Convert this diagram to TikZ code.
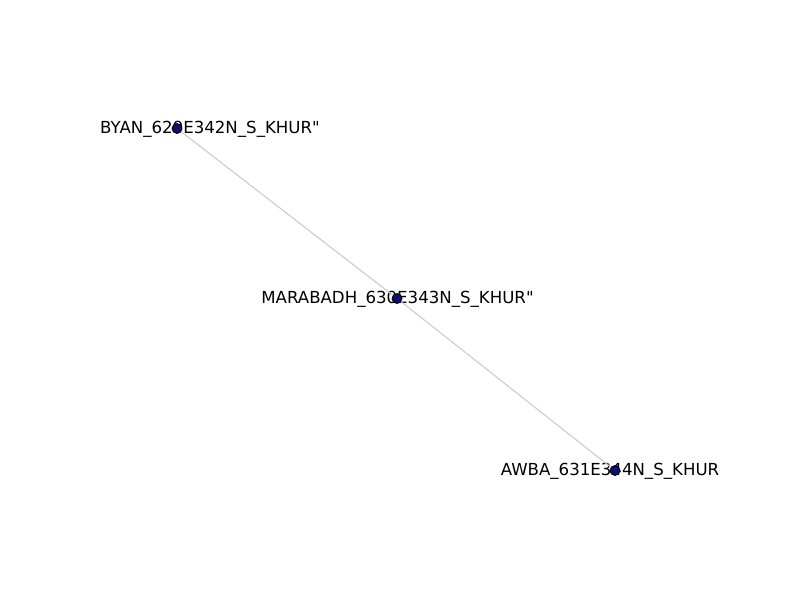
\documentclass[tikz,border=0pt]{standalone}
\usepackage{fontspec}
\setmainfont{DejaVu Sans}[Ligatures=TeXOff]
\usepackage{tikz}
\usepackage{xcolor}
\definecolor{stationfill}{RGB}{14,14,110}
\definecolor{linkgray}{RGB}{204,204,204}

\begin{document}
\begin{tikzpicture}[x=0.0254cm, y=-0.0254cm,
    station/.style={circle, draw=black, fill=stationfill, inner sep=0pt, minimum size=0.254cm, line width=0.6pt},
    link/.style={draw=linkgray, line width=0.8pt},
    tag/.style={font=\fontsize{12}{14}\selectfont, inner sep=0pt}]
  \useasboundingbox (0, 0) rectangle (800, 600);
  % labels
  \node[tag] (byanlabel) at (210, 129.5) {BYAN\_629E342N\_S\_KHUR"};
  \node[tag] (marabadhlabel) at (397.5, 299.5) {MARABADH\_630E343N\_S\_KHUR"};
  \node[tag] (awbalabel) at (610, 471.5) {AWBA\_631E344N\_S\_KHUR};
  % stations
  \node[station] (byan) at (177, 128.5) {};
  \node[station] (marabadh) at (397, 298.5) {};
  \node[station] (awba) at (615, 470.5) {};
  \draw[link] (byan) -- (marabadh);
  \draw[link] (marabadh) -- (awba);
\end{tikzpicture}
\end{document}
